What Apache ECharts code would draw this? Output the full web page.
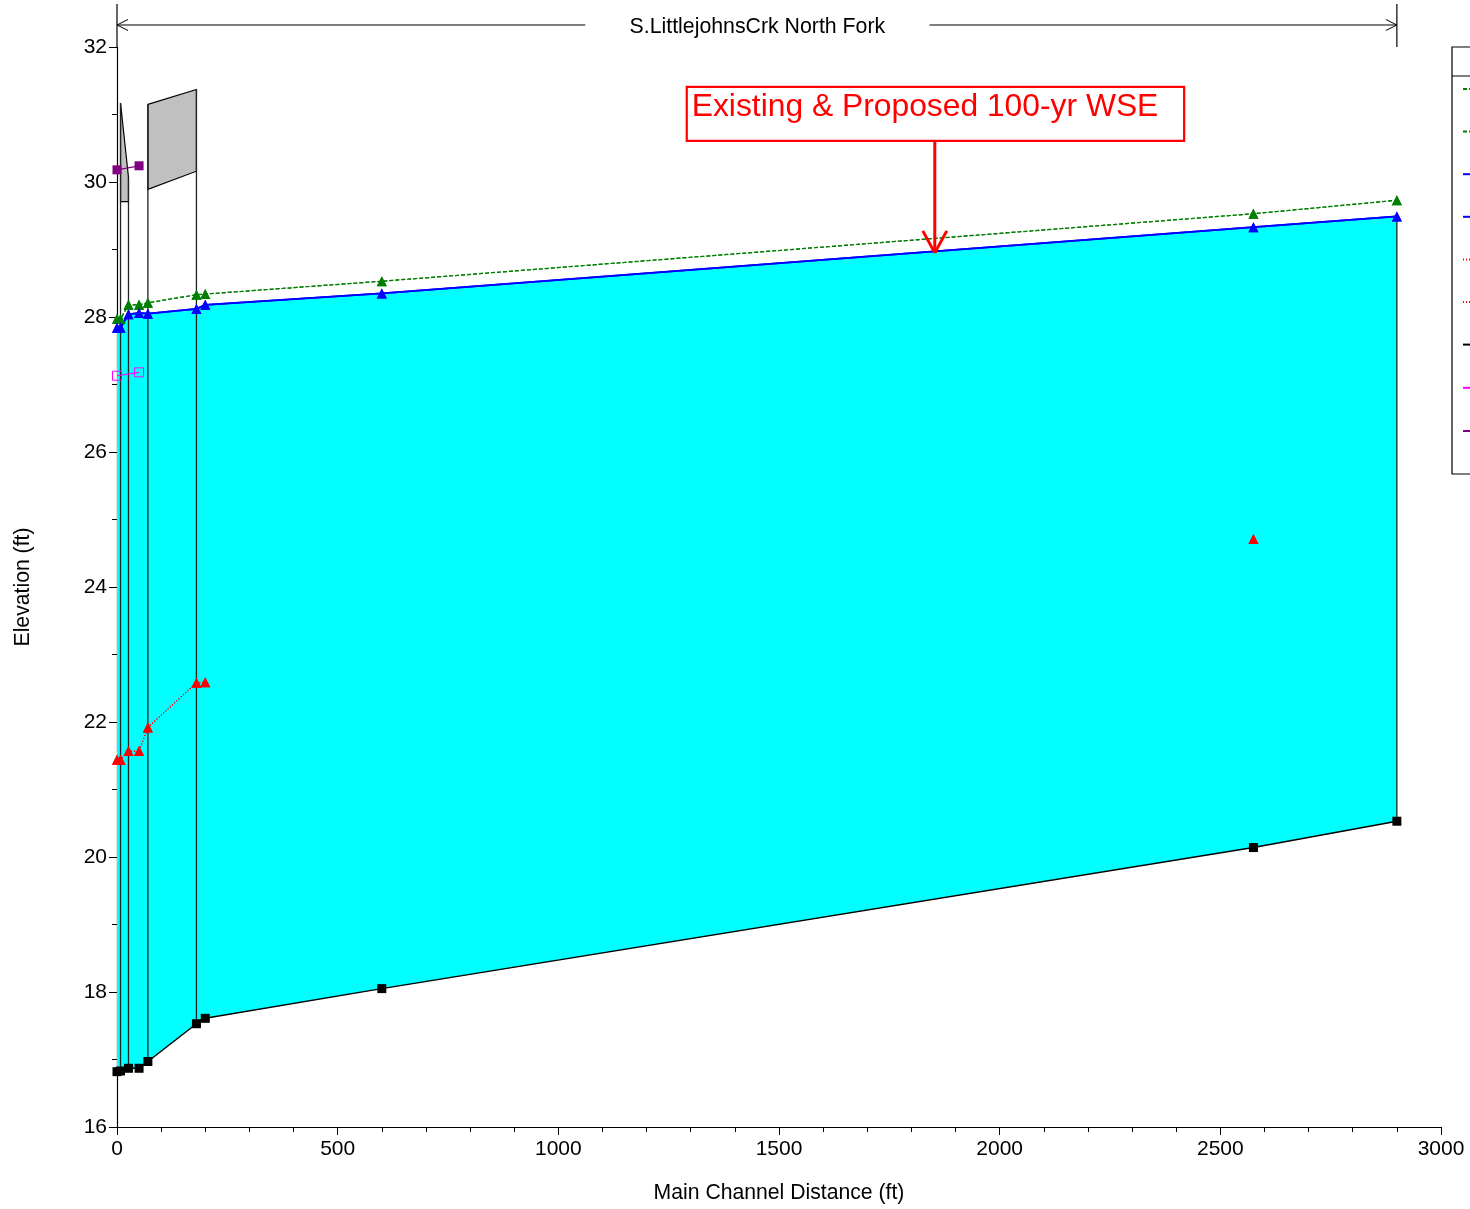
<!DOCTYPE html>
<html><head><meta charset="utf-8">
<style>html,body{margin:0;padding:0;background:#fff;overflow:hidden}#c{width:1470px;height:1209px}</style>
<script src="https://cdn.jsdelivr.net/npm/echarts@6/dist/echarts.min.js"></script>
</head><body><div id="c"></div>
<script>
const stations = [0, 8, 26, 50, 70, 180, 200, 600, 2575, 2900];
const egValues = [27.97, 27.97, 28.18, 28.18, 28.21, 28.33, 28.34, 28.53, 29.53, 29.73];
const wsValues = [27.84, 27.84, 28.04, 28.06, 28.05, 28.12, 28.18, 28.35, 29.33, 29.49];
const critValues = [21.44, 21.44, 21.57, 21.57, 21.92, 22.58, 22.59, null, 24.71, null];
const groundValues = [16.82, 16.83, 16.87, 16.87, 16.97, 17.53, 17.61, 18.05, 20.14, 20.53];
const bankStations = [0, 50];
const lobValues = [27.13, 27.18];
const robValues = [30.18, 30.24];
// bridge deck outlines: [station, elevation]
const deckLeft = [[8, 31.17], [26, 30.07], [26, 29.71], [8, 29.71]];
const deckRight = [[70, 31.15], [180, 31.37], [180, 30.16], [70, 29.89]];
// wall lines: station, bottom elevation, top elevation
const wallStations = [8, 26, 70, 180, 2900];
const wallBottoms = [16.83, 16.87, 16.97, 17.53, 20.53];
const wallTops = [31.17, 30.07, 31.15, 31.37, 29.49];
// annotations
const reachName = 'S.LittlejohnsCrk North Fork';
const reachY = 32.326, reachTop = 32.637;
const reachLeft = [0, 1061], reachRight = [1841, 2900];
const noteText = 'Existing & Proposed 100-yr WSE';
const noteBox = [1291, 31.41, 2418, 30.61];
const noteTip = [1853, 28.95];
const xMax = 3000;
const seriesNames = ['EG Proposed', 'EG Existing', 'WS Proposed', 'WS Existing', 'Crit Proposed', 'Crit Existing', 'Ground', 'LOB', 'ROB'];

const zip = (xs, ys) => xs.map((x, i) => [x, ys[i]]);
const FONT = '"Liberation Sans", Arial, sans-serif';

function lineSeries(name, xs, ys, color, width, type, symbol, size, hollow) {
  return {
    type: 'line', name, data: zip(xs, ys), clip: false, z: 5, animation: false,
    symbol, symbolSize: size, showSymbol: true, connectNulls: false, silent: true,
    lineStyle: { color, width, type },
    itemStyle: hollow ? { color: '#ffffff00', borderColor: color, borderWidth: 1 } : { color, borderWidth: 0 }
  };
}
const ln = (a, b, color, lineWidth, z) => ({
  type: 'line', z2: z || 1,
  shape: { x1: a[0], y1: a[1], x2: b[0], y2: b[1] },
  style: { stroke: color, lineWidth }
});

const fillSeries = {
  type: 'custom', silent: true, z: 1, data: [[0, 0]], animation: false,
  renderItem(p, api) {
    const top = zip(stations, wsValues).map(c => api.coord(c));
    const bot = zip(stations, groundValues).map(c => api.coord(c)).reverse();
    return { type: 'polygon', shape: { points: top.concat(bot) }, style: { fill: '#00FFFF' } };
  }
};
const structSeries = {
  type: 'custom', silent: true, z: 3, data: [[0, 0]], animation: false,
  renderItem(p, api) {
    const children = [];
    [deckLeft, deckRight].forEach(d => children.push({
      type: 'polygon', shape: { points: d.map(c => api.coord(c)) },
      style: { fill: '#C0C0C0', stroke: '#000', lineWidth: 1.2 }
    }));
    wallStations.forEach((s, i) => children.push(
      ln(api.coord([s, wallBottoms[i]]), api.coord([s, wallTops[i]]), '#222', 1.3)));
    return { type: 'group', children };
  }
};
const noteSeries = {
  type: 'custom', silent: true, z: 6, data: [[0, 0]], animation: false,
  renderItem(p, api) {
    const c = [];
    // y-axis extension, reach end tick
    c.push(ln(api.coord([0, 32]), api.coord([0, reachTop]), '#000', 1.2));
    c.push(ln(api.coord([reachRight[1], 32]), api.coord([reachRight[1], reachTop]), '#000', 1.2));
    // reach arrows
    c.push(ln(api.coord([reachLeft[0], reachY]), api.coord([reachLeft[1], reachY]), '#000', 1));
    c.push(ln(api.coord([reachRight[0], reachY]), api.coord([reachRight[1], reachY]), '#000', 1));
    const l = api.coord([reachLeft[0], reachY]), r = api.coord([reachRight[1], reachY]);
    c.push(ln(l, [l[0] + 11, l[1] - 5.5], '#000', 1), ln(l, [l[0] + 11, l[1] + 5.5], '#000', 1));
    c.push(ln(r, [r[0] - 11, r[1] - 5.5], '#000', 1), ln(r, [r[0] - 11, r[1] + 5.5], '#000', 1));
    const mid = api.coord([(reachLeft[1] + reachRight[0]) / 2, reachY]);
    c.push({ type: 'text', x: mid[0], y: mid[1] + 2, style: { text: reachName, font: '21.3px ' + FONT, fill: '#000', textAlign: 'center', textVerticalAlign: 'middle' } });
    // red note
    const a = api.coord([noteBox[0], noteBox[1]]), b = api.coord([noteBox[2], noteBox[3]]);
    c.push({ type: 'rect', shape: { x: a[0], y: a[1], width: b[0] - a[0], height: b[1] - a[1] }, style: { fill: '#fff', stroke: '#FF0000', lineWidth: 2.2 } });
    c.push({ type: 'text', z2: 2, x: a[0] + 5, y: a[1] + 20.5, style: { text: noteText, font: '31.8px ' + FONT, fill: '#FF0000', textAlign: 'left', textVerticalAlign: 'middle' } });
    const tip = api.coord(noteTip);
    c.push(ln([tip[0], b[1]], tip, '#FF0000', 3));
    c.push(ln(tip, [tip[0] - 12, tip[1] - 22], '#FF0000', 3), ln(tip, [tip[0] + 12, tip[1] - 22], '#FF0000', 3));
    return { type: 'group', children: c };
  }
};

const chart = echarts.init(document.getElementById('c'), null, { renderer: 'canvas' });
const axisBase = {
  axisLine: { show: true, onZero: false, lineStyle: { color: '#000', width: 1.2 } },
  axisTick: { show: true, length: 8, lineStyle: { color: '#000', width: 1 } },
  minorTick: { show: true, length: 5, lineStyle: { color: '#000', width: 1 } },
  splitLine: { show: false }, minorSplitLine: { show: false },
  nameLocation: 'middle',
  nameTextStyle: { fontFamily: FONT, fontSize: 21.2, color: '#000' },
  axisLabel: { fontFamily: FONT, fontSize: 21, color: '#000', hideOverlap: false, showMinLabel: true, showMaxLabel: true, formatter: v => String(v) }
};
chart.setOption({
  animation: false,
  backgroundColor: '#fff',
  grid: { left: 117, top: 47, width: 1324, height: 1080, containLabel: false },
  xAxis: Object.assign({}, axisBase, {
    type: 'value', min: 0, max: xMax, interval: 500, name: 'Main Channel Distance (ft)', nameGap: 56,
    minorTick: Object.assign({}, axisBase.minorTick, { splitNumber: 5 }),
    axisLabel: Object.assign({}, axisBase.axisLabel, { margin: 12 })
  }),
  yAxis: Object.assign({}, axisBase, {
    type: 'value', min: 16, max: 32, interval: 2, name: 'Elevation (ft)', nameGap: 83,
    minorTick: Object.assign({}, axisBase.minorTick, { splitNumber: 2 }),
    axisLabel: Object.assign({}, axisBase.axisLabel, { margin: 10, padding: [4, 0, 0, 0] })
  }),
  legend: {
    orient: 'vertical', left: 1452, top: 47, selectedMode: false,
    data: seriesNames, itemWidth: 30, itemHeight: 14, itemGap: 30.6,
    padding: [36, 120, 37, 10], borderColor: '#000', borderWidth: 1.2,
    textStyle: { fontFamily: FONT, fontSize: 12, color: '#000' }
  },
  graphic: [{ type: 'line', x: 1452, y: 76, shape: { x1: 0, y1: 0, x2: 30, y2: 0 }, style: { stroke: '#000', lineWidth: 1 } }],
  series: [
    fillSeries, structSeries,
    lineSeries(seriesNames[0], stations, egValues, '#008000', 1.2, [4, 2], 'triangle', 10),
    lineSeries(seriesNames[1], stations, egValues, '#008000', 1.2, [4, 2], 'triangle', 10),
    lineSeries(seriesNames[2], stations, wsValues, '#0000FF', 1.8, 'solid', 'triangle', 10),
    lineSeries(seriesNames[3], stations, wsValues, '#0000FF', 1.8, 'solid', 'triangle', 10),
    lineSeries(seriesNames[4], stations, critValues, '#FF0000', 1.2, [1, 2], 'triangle', 10),
    lineSeries(seriesNames[5], stations, critValues, '#FF0000', 1.2, [1, 2], 'triangle', 10),
    lineSeries(seriesNames[6], stations, groundValues, '#000000', 1.5, 'solid', 'rect', 9),
    lineSeries(seriesNames[7], bankStations, lobValues, '#FF00FF', 1.2, 'solid', 'rect', 9, true),
    lineSeries(seriesNames[8], bankStations, robValues, '#800080', 1.2, 'solid', 'rect', 9),
    noteSeries
  ]
});
</script></body></html>
